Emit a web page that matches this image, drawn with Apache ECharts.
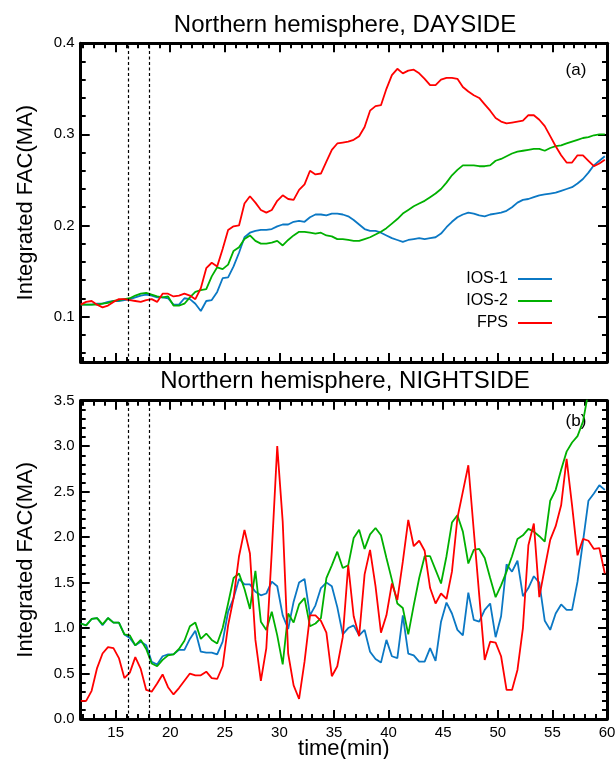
<!DOCTYPE html>
<html><head><meta charset="utf-8">
<script src="https://cdn.jsdelivr.net/npm/echarts@6/dist/echarts.min.js"></script>
<style>html,body{margin:0;padding:0;background:#fff}#c{width:616px;height:759px}</style>
</head><body><div id="c"></div>
<script>
const times = [11.8,12.3,12.8,13.3,13.8,14.3,14.8,15.3,15.8,16.3,
16.8,17.3,17.8,18.3,18.8,19.3,19.8,20.3,20.8,21.3,
21.8,22.3,22.8,23.3,23.8,24.3,24.8,25.3,25.8,26.3,
26.8,27.3,27.8,28.3,28.8,29.3,29.8,30.3,30.8,31.3,
31.8,32.3,32.8,33.3,33.8,34.3,34.8,35.3,35.8,36.3,
36.8,37.3,37.8,38.3,38.8,39.3,39.8,40.3,40.8,41.3,
41.8,42.3,42.8,43.3,43.8,44.3,44.8,45.3,45.8,46.3,
46.8,47.3,47.8,48.3,48.8,49.3,49.8,50.3,50.8,51.3,
51.8,52.3,52.8,53.3,53.8,54.3,54.8,55.3,55.8,56.3,
56.8,57.3,57.8,58.3,58.8,59.3,59.8];

const seriesNames = ['IOS-1','IOS-2','FPS'];

// Dayside
const ios1Day = [0.113,0.113,0.113,0.114,0.114,0.116,0.117,0.117,0.118,0.119,
0.121,0.123,0.124,0.123,0.121,0.121,0.120,0.113,0.113,0.120,
0.119,0.114,0.106,0.117,0.118,0.127,0.142,0.143,0.155,0.170,
0.187,0.192,0.194,0.195,0.195,0.196,0.199,0.201,0.201,0.204,
0.205,0.204,0.209,0.212,0.212,0.211,0.213,0.213,0.212,0.210,
0.206,0.201,0.196,0.194,0.194,0.192,0.189,0.186,0.184,0.182,
0.184,0.185,0.186,0.185,0.186,0.187,0.191,0.198,0.204,0.209,
0.212,0.214,0.213,0.211,0.210,0.212,0.213,0.214,0.216,0.220,
0.225,0.228,0.229,0.231,0.233,0.234,0.235,0.236,0.238,0.240,
0.242,0.246,0.251,0.258,0.266,0.271,0.276];
const ios2Day = [0.113,0.113,0.113,0.113,0.114,0.115,0.117,0.118,0.119,0.120,
0.123,0.125,0.126,0.124,0.122,0.121,0.122,0.112,0.112,0.114,
0.121,0.127,0.129,0.130,0.144,0.154,0.152,0.157,0.172,0.176,
0.185,0.189,0.183,0.180,0.180,0.181,0.183,0.178,0.184,0.189,
0.193,0.193,0.192,0.191,0.192,0.189,0.188,0.185,0.185,0.184,
0.183,0.183,0.185,0.187,0.190,0.193,0.197,0.202,0.207,0.213,
0.217,0.221,0.224,0.227,0.231,0.235,0.240,0.247,0.255,0.261,
0.266,0.266,0.266,0.265,0.265,0.266,0.271,0.273,0.276,0.279,
0.281,0.282,0.283,0.284,0.284,0.282,0.285,0.287,0.288,0.290,
0.292,0.294,0.296,0.297,0.299,0.300,0.300];
const fpsDay = [0.113,0.116,0.117,0.113,0.110,0.112,0.116,0.119,0.119,0.118,
0.117,0.116,0.118,0.119,0.116,0.125,0.125,0.122,0.123,0.125,
0.123,0.119,0.131,0.153,0.159,0.155,0.174,0.195,0.199,0.200,
0.224,0.232,0.225,0.217,0.214,0.217,0.227,0.233,0.229,0.228,
0.239,0.245,0.260,0.256,0.257,0.270,0.283,0.290,0.291,0.292,
0.294,0.298,0.308,0.326,0.331,0.332,0.350,0.365,0.372,0.367,
0.370,0.371,0.367,0.361,0.354,0.354,0.360,0.362,0.362,0.361,
0.352,0.347,0.343,0.340,0.333,0.326,0.318,0.314,0.312,0.313,
0.314,0.315,0.321,0.321,0.316,0.309,0.298,0.287,0.277,0.269,
0.269,0.277,0.277,0.271,0.265,0.268,0.272];

// Nightside
const ios1Night = [1.05,1.03,1.10,1.11,1.03,1.11,1.06,1.06,0.93,0.89,
0.81,0.85,0.81,0.63,0.60,0.69,0.71,0.71,0.76,0.76,
0.88,0.97,0.74,0.73,0.73,0.71,0.85,1.18,1.33,1.54,
1.48,1.48,1.40,1.36,1.38,1.51,1.46,1.14,0.99,1.29,
1.50,1.54,1.14,1.25,1.44,1.50,1.46,1.23,0.93,1.00,
1.03,0.92,0.98,0.74,0.66,0.62,0.87,0.69,0.67,1.14,
0.72,0.70,0.63,0.63,0.78,0.64,1.07,1.28,1.16,0.98,
0.92,1.39,1.09,1.07,1.20,1.27,0.90,1.13,1.70,1.62,
1.74,1.35,1.44,1.57,1.50,1.08,0.98,1.16,1.26,1.20,
1.20,1.51,1.95,2.40,2.48,2.57,2.52];
const ios2Night = [1.05,1.03,1.10,1.11,1.04,1.11,1.06,1.06,0.93,0.92,
0.81,0.87,0.77,0.61,0.58,0.65,0.70,0.71,0.77,0.86,
1.02,1.06,0.88,0.94,0.87,0.83,1.00,1.27,1.55,1.60,
1.43,1.21,1.63,1.07,0.98,1.18,0.92,0.60,1.16,1.06,
1.26,1.33,1.02,1.05,1.11,1.55,1.69,1.84,1.66,1.69,
1.99,2.08,1.87,2.03,2.10,2.02,1.77,1.53,1.27,1.22,
0.93,1.25,1.55,1.79,1.79,1.64,1.49,1.79,2.16,2.24,
2.06,1.71,1.86,1.87,1.77,1.55,1.34,1.47,1.62,1.79,
1.98,2.02,2.09,2.06,2.01,1.95,2.40,2.52,2.74,2.94,
3.04,3.11,3.27,3.60,3.90,4.10,4.30];
const fpsNight = [0.20,0.20,0.31,0.56,0.72,0.79,0.78,0.67,0.45,0.51,
0.68,0.55,0.32,0.30,0.39,0.49,0.35,0.27,0.34,0.42,
0.50,0.48,0.48,0.52,0.45,0.44,0.58,1.03,1.33,1.79,
2.08,1.82,0.87,0.42,0.78,1.84,3.00,2.17,0.72,0.37,
0.22,0.63,1.14,1.14,1.08,0.95,0.47,0.58,0.90,1.69,
1.13,0.91,1.59,1.86,1.46,0.95,1.14,1.49,1.31,1.73,
2.19,1.90,1.96,1.85,1.44,1.27,1.38,1.32,1.62,2.21,
2.50,2.79,2.07,1.36,0.65,0.85,0.84,0.69,0.32,0.32,
0.54,1.00,1.91,2.15,1.34,1.66,1.97,2.12,2.35,2.86,
2.35,1.80,1.98,1.96,1.87,1.88,1.60];

// Tick values
const xTicks = [15,20,25,30,35,40,45,50,55,60];
const yTicksDay = [0.1,0.2,0.3,0.4];
const yTicksNight = [0.0,0.5,1.0,1.5,2.0,2.5,3.0,3.5];
const eventTimes = [16.2,18.1];

const X_MIN = 11.8, X_MAX = 60;
const FONT = '"Liberation Sans", Arial, Helvetica, sans-serif';
const colors = ['#0b78c4','#00b000','#ff0000'];

function minors(a, b, step, majors) {
  const out = [];
  const n = Math.round((b - a) / step);
  for (let k = 0; k <= n; k++) {
    const v = +(a + k * step).toFixed(4);
    if (!majors.some(m => Math.abs(m - v) < 1e-6)) out.push(v);
  }
  return out;
}
const xMinor = minors(12, 59, 1, xTicks);
const yMinorDay = minors(0.06, 0.40, 0.02, yTicksDay);
const yMinorNight = minors(0.1, 3.4, 0.1, yTicksNight);

const grids = [
  {left:80.7, right:9, top:43.3, height:318.7},
  {left:80.7, right:9, top:43.3, height:318.7},
  {left:80.7, right:9, top:400.7, height:318.3},
  {left:80.7, right:9, top:400.7, height:318.3}
].map(g => Object.assign({containLabel:false, outerBoundsMode:'none'}, g));

function xAx(grid, pos, ticks, major, labels, extra) {
  return Object.assign({
    type:'value', gridIndex:grid, position:pos, min:X_MIN, max:X_MAX,
    axisLine:{show:major, onZero:false, lineStyle:{color:'#000', width:3}},
    axisTick:{show:true, inside:true, length:major?9:5, customValues:ticks, lineStyle:{color:'#000', width:2}},
    axisLabel:labels ? {show:true, customValues:ticks, margin:6, color:'#000', fontSize:15, fontFamily:FONT,
      formatter: v => String(Math.round(v))} : {show:false},
    splitLine:{show:false}
  }, extra || {});
}
function yAx(grid, pos, min, max, ticks, major, labels, extra) {
  return Object.assign({
    type:'value', gridIndex:grid, position:pos, min:min, max:max,
    axisLine:{show:major, onZero:false, lineStyle:{color:'#000', width:3}},
    axisTick:{show:true, inside:true, length:major?9:5, customValues:ticks, lineStyle:{color:'#000', width:2}},
    axisLabel:labels ? {show:true, customValues:ticks, margin:6, color:'#000', fontSize:15, fontFamily:FONT,
      formatter: v => v.toFixed(1)} : {show:false},
    splitLine:{show:false}
  }, extra || {});
}
const yName = {name:'Integrated FAC(MA)', nameLocation:'middle', nameGap:44,
  nameTextStyle:{fontSize:22, fontFamily:FONT, color:'#000'}};

const xAxes = [
  xAx(0,'bottom',xTicks,true,false),
  xAx(0,'top',xTicks,true,false),
  xAx(1,'bottom',xMinor,false,false),
  xAx(1,'top',xMinor,false,false),
  xAx(2,'bottom',xTicks,true,true,{name:'time(min)', nameLocation:'middle', nameGap:19, nameMoveOverlap:false,
     nameTextStyle:{fontSize:22, fontFamily:FONT, color:'#000'}}),
  xAx(2,'top',xTicks,true,false),
  xAx(3,'bottom',xMinor,false,false),
  xAx(3,'top',xMinor,false,false)
];
const yAxes = [
  yAx(0,'left',0.05,0.4,yTicksDay,true,true,yName),
  yAx(0,'right',0.05,0.4,yTicksDay,true,false),
  yAx(1,'left',0.05,0.4,yMinorDay,false,false),
  yAx(1,'right',0.05,0.4,yMinorDay,false,false),
  yAx(2,'left',0,3.5,yTicksNight,true,true,yName),
  yAx(2,'right',0,3.5,yTicksNight,true,false),
  yAx(3,'left',0,3.5,yMinorNight,false,false),
  yAx(3,'right',0,3.5,yMinorNight,false,false)
];

function pairs(vals) { return vals.map((v, i) => [times[i], v]); }
function mk(name, vals, idx, axis, withMark) {
  const s = {name:name, type:'line', xAxisIndex:axis, yAxisIndex:axis, data:pairs(vals),
    symbol:'none', showSymbol:false, clip:true, animation:false,
    lineStyle:{color:colors[idx], width:1.8}, itemStyle:{color:colors[idx]}};
  if (withMark) {
    s.markLine = {silent:true, symbol:['none','none'], label:{show:false}, animation:false,
      lineStyle:{color:'#000', type:[3,2.5], width:1.2},
      data:eventTimes.map(t => ({xAxis:t}))};
  }
  return s;
}
const series = [
  mk(seriesNames[0], ios1Day, 0, 0, true),
  mk(seriesNames[1], ios2Day, 1, 0, false),
  mk(seriesNames[2], fpsDay, 2, 0, false),
  mk(seriesNames[0], ios1Night, 0, 4, true),
  mk(seriesNames[1], ios2Night, 1, 4, false),
  mk(seriesNames[2], fpsNight, 2, 4, false)
];

const chart = echarts.init(document.getElementById('c'), null, {renderer:'canvas'});
chart.setOption({
  animation:false,
  backgroundColor:'#fff',
  grid:grids,
  xAxis:xAxes,
  yAxis:yAxes,
  legend:{data:seriesNames, orient:'vertical', align:'right', right:59, top:266,
    icon:'path://M0,0 L0,12 M5,5 L39,5 L39,7 L5,7 Z',
    itemWidth:39, itemHeight:12, itemGap:6, selectedMode:false,
    itemStyle:{borderWidth:0},
    textStyle:{fontSize:16, fontFamily:FONT, color:'#000'}},
  graphic:[
    {type:'text', x:345, y:25, style:{text:'Northern hemisphere, DAYSIDE', font:'24px ' + FONT, fill:'#000', align:'center', verticalAlign:'middle'}},
    {type:'text', x:345, y:381, style:{text:'Northern hemisphere, NIGHTSIDE', font:'24px ' + FONT, fill:'#000', align:'center', verticalAlign:'middle'}},
    {type:'text', x:576, y:70, style:{text:'(a)', font:'17px ' + FONT, fill:'#000', align:'center', verticalAlign:'middle'}},
    {type:'text', x:576, y:421, style:{text:'(b)', font:'17px ' + FONT, fill:'#000', align:'center', verticalAlign:'middle'}}
  ],
  series:series
});
</script>
</body></html>
